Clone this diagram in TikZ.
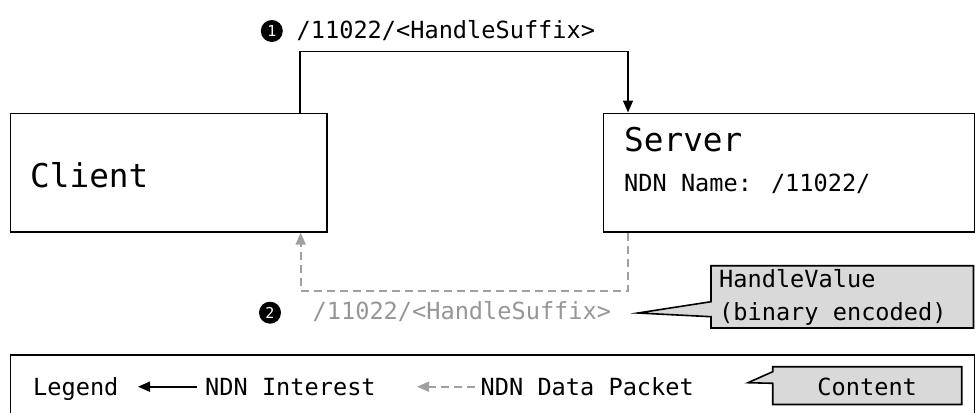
\documentclass[tikz,border=0pt]{standalone}
\usepackage{fontspec}
\usetikzlibrary{arrows.meta}
\newfontfamily\dmono{DejaVu Sans Mono}
\definecolor{dgray}{RGB}{160,160,160}
\definecolor{tgray}{RGB}{150,150,150}
\definecolor{cfill}{RGB}{217,217,217}
\tikzset{
  box/.style={draw=black, line width=1.6pt, inner sep=0pt, anchor=north west},
  txt/.style={font=\dmono\fontsize{23.6}{28}\selectfont, inner sep=0pt, anchor=base west},
  bigtxt/.style={font=\dmono\fontsize{32.7}{38}\selectfont, inner sep=0pt, anchor=base west},
  interest/.style={draw=black, line width=1.6pt, -{Triangle[length=12pt,width=10pt]}},
  datapkt/.style={draw=dgray, line width=1.6pt, dash pattern=on 8pt off 5pt, -{Triangle[length=12pt,width=10pt]}},
  numdot/.style={circle, fill=black, minimum size=22pt, inner sep=0pt, text=white, font=\dmono\fontsize{15}{17}\selectfont},
  callout/.style={draw=black, line width=1.6pt, fill=cfill, line join=miter}
}
\begin{document}
\begin{tikzpicture}[x=1pt, y=-1pt]
\useasboundingbox (0,0) rectangle (976,412);
\clip (0,0) rectangle (976,412);
% boxes
\node[box, minimum width=316.5pt, minimum height=118.5pt] (client) at (9.5,112.5) {};
\node[box, minimum width=371pt, minimum height=118.5pt] (server) at (602.5,112.5) {};
\node[bigtxt] (clientlbl) at (30,187.3) {Client};
\node[bigtxt] (serverlbl) at (624,151.7) {Server};
\node[txt] (ndnname) at (624,191.7) {NDN Name: /11022/};
% interest connector
\coordinate (p1) at (300,51.7);
\coordinate (p2) at (628,51.7);
\draw[interest] (client.north -| p1) -- (p1) -- (p2) -- (server.north -| p2);
\node[numdot] (n1) at (271.8,31) {1};
\node[txt] (lbl1) at (296.5,38.3) {/11022/<HandleSuffix>};
% data connector
\coordinate (q1) at (628,290.7);
\coordinate (q2) at (300.7,290.7);
\draw[datapkt] (server.south -| q1) -- (q1) -- (q2) -- (client.south -| q2);
\node[numdot] (n2) at (270,312.7) {2};
\node[txt, text=tgray] (lbl2) at (312.5,319.3) {/11022/<HandleSuffix>};
% HandleValue callout
\coordinate (hvtip) at (638,313);
\draw[callout] (711,265.7) -- (973.5,265.7) -- (973.5,328) -- (711,328) -- (711,316.7) -- (hvtip) -- (711,301.7) -- cycle;
\node[txt] (hv1) at (719,287.3) {HandleValue};
\node[txt] (hv2) at (719,320.7) {(binary encoded)};
% legend
\node[box, minimum width=964pt, minimum height=70pt] (legend) at (9.5,354) {};
\node[txt] (leg) at (33,395) {Legend};
\coordinate (la1) at (197,386.7);
\coordinate (la2) at (138,386.7);
\draw[interest] (la1) -- (la2);
\node[txt] (legint) at (205,395) {NDN Interest};
\coordinate (lb1) at (475,386.7);
\coordinate (lb2) at (417,386.7);
\draw[datapkt] (lb1) -- (lb2);
\node[txt] (legdata) at (480.5,395) {NDN Data Packet};
\coordinate (ctip) at (748,382.7);
\draw[callout] (772.7,366.7) -- (961.7,366.7) -- (961.7,404.5) -- (772.7,404.5) -- (772.7,383.3) -- (ctip) -- (772.7,371.7) -- cycle;
\node[txt, anchor=base] (content) at (867.2,395) {Content};
\end{tikzpicture}
\end{document}
